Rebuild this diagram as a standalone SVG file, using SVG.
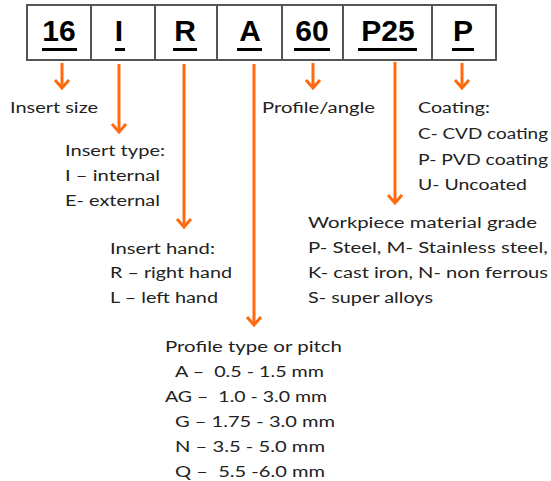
<svg xmlns="http://www.w3.org/2000/svg" width="551" height="481" viewBox="0 0 551 481">
<style>
.box{fill:#fff;stroke:#555;stroke-width:2}
.code{font-family:"Liberation Sans",Arial,sans-serif;font-weight:bold;font-size:30px;fill:#000;text-anchor:middle}
.ul{stroke:#000;stroke-width:3}
.lbl{font-family:Lato,"Open Sans",sans-serif;font-size:15.5px;fill:#222}
.arr{stroke:#FF6A10;stroke-width:3;fill:none;marker-end:url(#ah)}
</style>
<defs>
<marker id="ah" markerUnits="userSpaceOnUse" orient="auto" markerWidth="20" markerHeight="20" refX="0" refY="0" viewBox="-12 -10 14 20" overflow="visible">
<path d="M-8,-7 L0,0 L-8,7" fill="none" stroke="#FF6A10" stroke-width="3" stroke-linejoin="miter"/>
</marker>
</defs>
<rect width="551" height="481" fill="#fff"/>
<g id="code-boxes">
<g id="box-16"><rect class="box" x="27" y="5" width="64" height="55"/><text class="code" x="59" y="41">16</text><line class="ul" x1="42" y1="49.5" x2="77" y2="49.5"/></g>
<g id="box-I"><rect class="box" x="91" y="5" width="64" height="55"/><text class="code" x="119" y="41">I</text><line class="ul" x1="115" y1="49.5" x2="125" y2="49.5"/></g>
<g id="box-R"><rect class="box" x="155" y="5" width="62" height="55"/><text class="code" x="185" y="41">R</text><line class="ul" x1="173" y1="49.5" x2="197" y2="49.5"/></g>
<g id="box-A"><rect class="box" x="217" y="5" width="65" height="55"/><text class="code" x="250" y="41">A</text><line class="ul" x1="237" y1="49.5" x2="262" y2="49.5"/></g>
<g id="box-60"><rect class="box" x="282" y="5" width="61" height="55"/><text class="code" x="312" y="41">60</text><line class="ul" x1="294" y1="49.5" x2="330" y2="49.5"/></g>
<g id="box-P25"><rect class="box" x="343" y="5" width="89" height="55"/><text class="code" x="388" y="41">P25</text><line class="ul" x1="358" y1="49.5" x2="417" y2="49.5"/></g>
<g id="box-P"><rect class="box" x="432" y="5" width="64" height="55"/><text class="code" x="463" y="41">P</text><line class="ul" x1="452" y1="49.5" x2="474" y2="49.5"/></g>
</g>
<g id="connectors">
<line class="arr" x1="62" y1="63" x2="62" y2="88"/>
<line class="arr" x1="119" y1="64" x2="119" y2="132"/>
<line class="arr" x1="184" y1="64" x2="184" y2="227"/>
<line class="arr" x1="254" y1="64" x2="254" y2="325"/>
<line class="arr" x1="313" y1="63" x2="313" y2="88"/>
<line class="arr" x1="395" y1="62" x2="395" y2="203"/>
<line class="arr" x1="462" y1="63" x2="462" y2="88"/>
</g>
<g id="insert-size"><text class="lbl" x="10" y="113" textLength="88" lengthAdjust="spacingAndGlyphs">Insert size</text></g>
<g id="insert-type">
<text class="lbl" x="65" y="156" textLength="100" lengthAdjust="spacingAndGlyphs">Insert type:</text>
<text class="lbl" x="65" y="181" textLength="95" lengthAdjust="spacingAndGlyphs">I – internal</text>
<text class="lbl" x="65" y="206" textLength="95" lengthAdjust="spacingAndGlyphs">E- external</text>
</g>
<g id="insert-hand">
<text class="lbl" x="110" y="254" textLength="105" lengthAdjust="spacingAndGlyphs">Insert hand:</text>
<text class="lbl" x="110" y="278" textLength="122" lengthAdjust="spacingAndGlyphs">R – right hand</text>
<text class="lbl" x="110" y="303" textLength="108" lengthAdjust="spacingAndGlyphs">L – left hand</text>
</g>
<g id="profile-type">
<text class="lbl" x="165" y="352" textLength="177" lengthAdjust="spacingAndGlyphs">Profile type or pitch</text>
<text class="lbl" x="175" y="377" textLength="149" lengthAdjust="spacingAndGlyphs" xml:space="preserve">A –  0.5 - 1.5 mm</text>
<text class="lbl" x="165" y="402" textLength="162" lengthAdjust="spacingAndGlyphs" xml:space="preserve">AG –  1.0 - 3.0 mm</text>
<text class="lbl" x="175" y="427" textLength="160" lengthAdjust="spacingAndGlyphs">G – 1.75 - 3.0 mm</text>
<text class="lbl" x="175" y="452" textLength="150" lengthAdjust="spacingAndGlyphs">N – 3.5 - 5.0 mm</text>
<text class="lbl" x="175" y="477" textLength="150" lengthAdjust="spacingAndGlyphs" xml:space="preserve">Q –  5.5 -6.0 mm</text>
</g>
<g id="profile-angle"><text class="lbl" x="262" y="113" textLength="113" lengthAdjust="spacingAndGlyphs">Profile/angle</text></g>
<g id="coating">
<text class="lbl" x="418" y="113" textLength="72" lengthAdjust="spacingAndGlyphs">Coating:</text>
<text class="lbl" x="418" y="139" textLength="130" lengthAdjust="spacingAndGlyphs">C- CVD coating</text>
<text class="lbl" x="418" y="165" textLength="130" lengthAdjust="spacingAndGlyphs">P- PVD coating</text>
<text class="lbl" x="418" y="190" textLength="109" lengthAdjust="spacingAndGlyphs">U- Uncoated</text>
</g>
<g id="workpiece">
<text class="lbl" x="308" y="228" textLength="229" lengthAdjust="spacingAndGlyphs">Workpiece material grade</text>
<text class="lbl" x="308" y="253" textLength="240" lengthAdjust="spacingAndGlyphs">P- Steel, M- Stainless steel,</text>
<text class="lbl" x="308" y="278" textLength="240" lengthAdjust="spacingAndGlyphs">K- cast iron, N- non ferrous</text>
<text class="lbl" x="308" y="303" textLength="125" lengthAdjust="spacingAndGlyphs">S- super alloys</text>
</g>
</svg>
